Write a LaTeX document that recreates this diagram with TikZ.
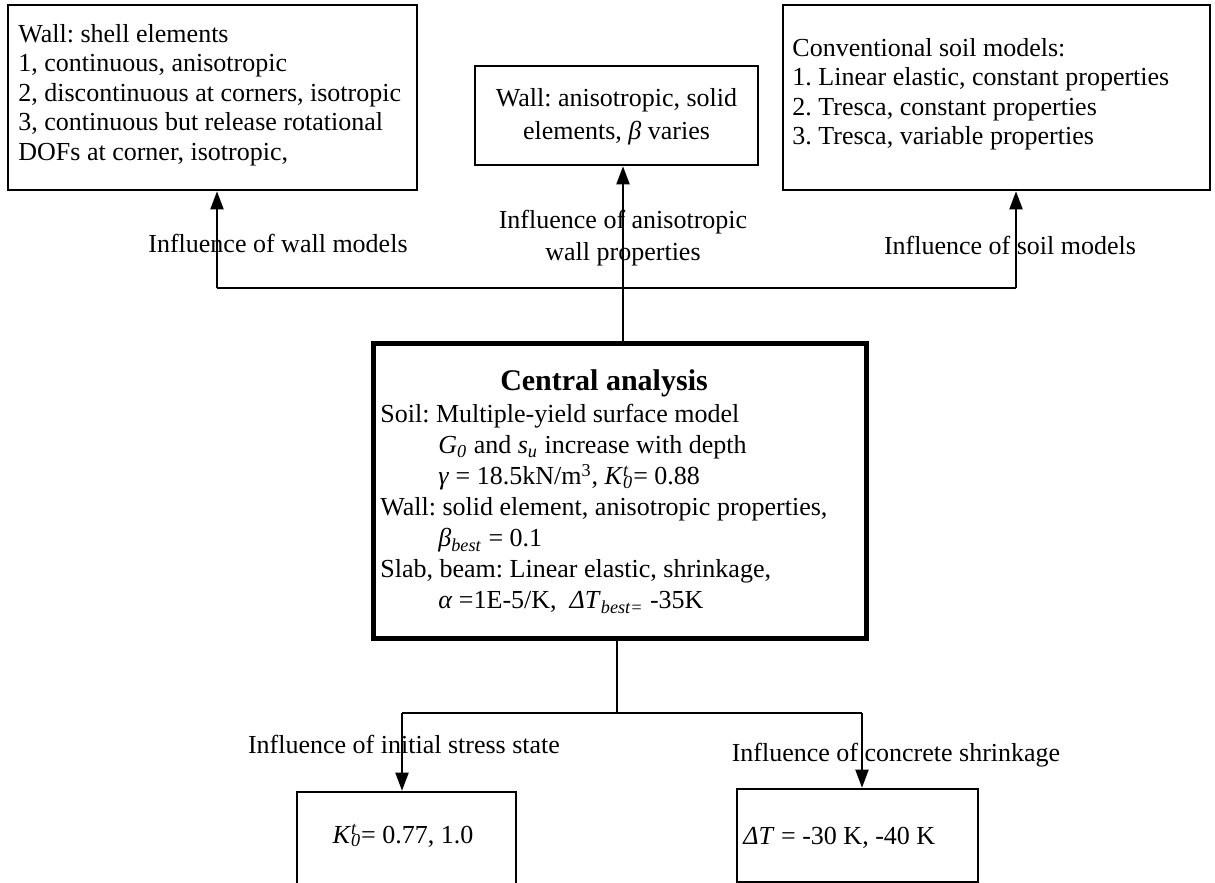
\documentclass[tikz,border=0pt]{standalone}
\usepackage{fontspec}
\setmainfont{Liberation Serif}
\usetikzlibrary{arrows.meta,fit}
\frenchspacing
\newcommand{\Kt}[1]{\textit{K}\rlap{\textsuperscript{\textit{t}}}\textsubscript{\textit{#1}}}
\begin{document}
\begin{tikzpicture}[x=0.5pt,y=-0.5pt,
  box/.style={draw,line width=1.3pt,inner sep=0pt},
  cbox/.style={draw,line width=2.5pt,inner sep=0pt},
  txt/.style={inner sep=0pt,font=\fontsize{13}{14.75}\selectfont,align=left},
  ctxt/.style={inner sep=0pt,font=\fontsize{13}{15.5}\selectfont,align=left},
  lbl/.style={inner sep=0pt,font=\fontsize{13}{16}\selectfont,align=center},
  conn/.style={line width=1pt},
  arr/.style={conn,-{Triangle[width=6.5pt,length=9pt]}}]
\useasboundingbox (0,0) rectangle (1215,883);
\begin{scope}
\clip (0,0) rectangle (1215,883);
% boxes
\node[box,fit={(8,5) (417,190)}] (wall) {};
\node[box,fit={(475,66) (758,165)}] (mid) {};
\node[box,fit={(783,5) (1210,190)}] (soil) {};
\node[cbox,fit={(373,343) (866,638)}] (central) {};
\node[box,fit={(297,792) (516,892)}] (kbox) {};
\node[box,fit={(737,789) (978,882)}] (tbox) {};
% texts
\node[txt,anchor=north west] (walltxt) at (18,24) {Wall: shell elements\\1, continuous, anisotropic\\2, discontinuous at corners, isotropic\\3, continuous but release rotational\\DOFs at corner, isotropic,};
\node[txt,anchor=north west] (soiltxt) at (792,38) {Conventional soil models:\\1. Linear elastic, constant properties\\2. Tresca, constant properties\\3. Tresca, variable properties};
\node[lbl,anchor=north,font=\fontsize{13}{16.5}\selectfont] (midtxt) at (616.5,88) {Wall: anisotropic, solid\\elements, \textit{β} varies};
\node[inner sep=0pt,anchor=base,font=\fontsize{15}{18}\selectfont\bfseries] (ctitle) at (604,390) {Central analysis};
\node[ctxt,anchor=north west] (ctxt) at (380,404) {Soil: Multiple-yield surface model\\
\hspace*{29pt}\textit{G}\textsubscript{\textit{0}} and \textit{s}\textsubscript{\textit{u}} increase with depth\\
\hspace*{29pt}\textit{γ} = 18.5kN/m\textsuperscript{3}, \Kt{0}= 0.88\\
Wall: solid element, anisotropic properties,\\
\hspace*{29pt}\textit{β}\textsubscript{\textit{best}} = 0.1\\
Slab, beam: Linear elastic, shrinkage,\\
\hspace*{29pt}\textit{α} =1E-5/K,\ \ \textit{ΔT}\textsubscript{\textit{best=}} -35K};
\node[lbl,anchor=base] (kval) at (403,843) {\Kt{0}= 0.77, 1.0};
\node[lbl,anchor=base west] (tval) at (743,844) {\textit{ΔT} = -30 K, -40 K};
% labels
\node[lbl,anchor=base] (lwall) at (278,252) {Influence of wall models};
\node[lbl,anchor=north] (lmid) at (623,210) {Influence of anisotropic\\wall properties};
\node[lbl,anchor=base] (lsoil) at (1010,254) {Influence of soil models};
\node[lbl,anchor=base] (linit) at (404,753) {Influence of initial stress state};
\node[lbl,anchor=base] (lshr) at (896,761) {Influence of concrete shrinkage};
% connectors
\coordinate (jl) at (217,288);
\coordinate (jr) at (1016,288);
\coordinate (jm) at (623,288);
\draw[conn] (jl) -- (jr);
\draw[arr] (jl) -- (jl |- wall.south);
\draw[arr] (jr) -- (jr |- soil.south);
\draw[arr] (jm |- central.north) -- (jm |- mid.south);
\coordinate (jb) at (617,713);
\coordinate (jbl) at (402,713);
\coordinate (jbr) at (862,713);
\draw[conn] (jb |- central.south) -- (jb);
\draw[conn] (jbl) -- (jbr);
\draw[arr] (jbl) -- (jbl |- kbox.north);
\draw[arr] (jbr) -- (jbr |- tbox.north);
\end{scope}
\end{tikzpicture}
\end{document}
